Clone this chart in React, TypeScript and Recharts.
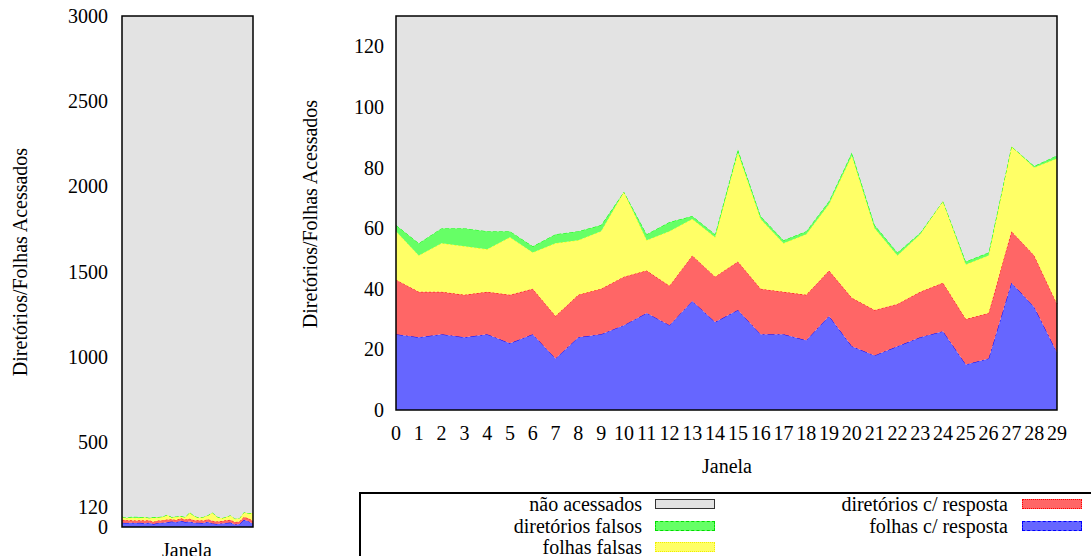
import { AreaChart, Area, XAxis, YAxis, ReferenceArea } from 'recharts';

// janela (time window) index
const janelas = [0, 1, 2, 3, 4, 5, 6, 7, 8, 9, 10, 11, 12, 13, 14, 15, 16, 17, 18, 19, 20, 21, 22, 23, 24, 25, 26, 27, 28, 29];

// values, per layer (bottom -> top)
const folhasResposta = [25, 24, 25, 24, 25, 22, 25, 17, 24, 25, 28, 32, 28, 36, 29, 33, 25, 25, 23, 31, 21, 18, 21, 24, 26, 15, 17, 42, 34, 19];
const diretoriosResposta = [18, 15, 14, 14, 14, 16, 15, 14, 14, 15, 16, 14, 13, 15, 15, 16, 15, 14, 15, 15, 16, 15, 14, 15, 16, 15, 15, 17, 17, 16];
const folhasFalsas = [16, 12, 16, 16, 14, 19, 12, 24, 18, 19, 28, 10, 18, 12, 13, 36, 23, 16, 20, 22, 47, 27, 16, 19, 27, 18, 19, 28, 29, 48];
const diretoriosFalsos = [2, 4, 5, 6, 6, 2, 2, 3, 3, 2, 0, 2, 3, 1, 1, 1, 1, 1, 1, 1, 1, 1, 1, 0.5, 0, 1, 1, 0, 0.5, 1];

// total number of nodes (top of the full-scale chart)
const TOTAL_NOS = 3000;

const leftTicks = [0, 120, 500, 1000, 1500, 2000, 2500, 3000];
const rightTicks = [0, 20, 40, 60, 80, 100, 120];

const data = janelas.map((j, i) => {
  const acessados = folhasResposta[i] + diretoriosResposta[i] + folhasFalsas[i] + diretoriosFalsos[i];
  return {
    janela: j,
    folhasResposta: folhasResposta[i],
    diretoriosResposta: diretoriosResposta[i],
    folhasFalsas: folhasFalsas[i],
    diretoriosFalsos: diretoriosFalsos[i],
    naoAcessados: TOTAL_NOS - acessados,
  };
});

const FONT = "'Liberation Serif', Tinos, 'DejaVu Serif', serif";

const series = [
  { key: 'folhasResposta', name: 'folhas c/ resposta', fill: '#6666ff', stroke: '#0000ff', dash: '7 3 2 3' },
  { key: 'diretoriosResposta', name: 'diretórios c/ resposta', fill: '#ff6666', stroke: '#ff0000', dash: '2 2' },
  { key: 'folhasFalsas', name: 'folhas falsas', fill: '#ffff66', stroke: '#ffff00', dash: '2 2' },
  { key: 'diretoriosFalsos', name: 'diretórios falsos', fill: '#66ff66', stroke: '#00ff00', dash: '4 2' },
  { key: 'naoAcessados', name: 'não acessados', fill: '#e3e3e3', stroke: 'none', dash: undefined },
];

const renderAreas = () =>
  series.map((s) => (
    <Area
      key={s.key}
      type="linear"
      dataKey={s.key}
      name={s.name}
      stackId="nos"
      fill={s.fill}
      fillOpacity={1}
      stroke={s.stroke}
      strokeWidth={1}
      strokeDasharray={s.dash}
      dot={false}
      activeDot={false}
      isAnimationActive={false}
    />
  ));

const tickStyle = { fill: '#000', fontSize: 20, fontFamily: FONT };

const axisTitle = (cx: number, cy: number, rotate: boolean): React.CSSProperties => ({
  position: 'absolute',
  left: cx,
  top: cy,
  transform: `translate(-50%, -50%)${rotate ? ' rotate(-90deg)' : ''}`,
  whiteSpace: 'nowrap',
  fontFamily: FONT,
  fontSize: 20,
  lineHeight: 1,
  color: '#000',
});

const legendRows = [
  { s: series[4], col: 0, row: 0, border: '1.5px solid #333' },
  { s: series[3], col: 0, row: 1, border: '1px dashed #00dd00' },
  { s: series[2], col: 0, row: 2, border: '1px dotted #eeee00' },
  { s: series[1], col: 1, row: 0, border: '1px dotted #ff0000' },
  { s: series[0], col: 1, row: 1, border: '1px dashed #0000ff' },
];

export default function App() {
  return (
    <div style={{ position: 'fixed', left: 0, top: 0, width: 1091, height: 556, overflow: 'hidden', background: '#fff', fontFamily: FONT }}>
      {/* full-scale chart */}
      <div style={{ position: 'absolute', left: 0, top: 0 }}>
        <AreaChart width={260} height={556} data={data} margin={{ top: 16, right: 7, left: 0, bottom: 29 }}>
          <XAxis dataKey="janela" type="number" domain={[0, 29]} hide />
          <YAxis
            type="number"
            domain={[0, TOTAL_NOS]}
            ticks={leftTicks}
            interval={0}
            width={122}
            axisLine={false}
            tickLine={false}
            tickSize={0}
            tickMargin={14}
            tick={tickStyle}
          />
          {renderAreas()}
          <ReferenceArea x1={0} x2={29} y1={0} y2={TOTAL_NOS} fill="none" stroke="#000" strokeWidth={1.5} ifOverflow="visible" />
        </AreaChart>
      </div>

      {/* zoomed chart */}
      <div style={{ position: 'absolute', left: 330, top: 0 }}>
        <AreaChart width={761} height={556} data={data} margin={{ top: 16, right: 34, left: 0, bottom: 116 }}>
          <XAxis
            dataKey="janela"
            type="number"
            domain={[0, 29]}
            ticks={janelas}
            interval={0}
            height={30}
            axisLine={false}
            tickLine={false}
            tickSize={0}
            tickMargin={16}
            tick={tickStyle}
          />
          <YAxis
            type="number"
            domain={[0, 130]}
            allowDataOverflow
            ticks={rightTicks}
            interval={0}
            width={66}
            axisLine={false}
            tickLine={false}
            tickSize={0}
            tickMargin={12}
            tick={tickStyle}
          />
          {renderAreas()}
          <ReferenceArea x1={0} x2={29} y1={0} y2={130} fill="none" stroke="#000" strokeWidth={1.5} ifOverflow="visible" />
        </AreaChart>
      </div>

      <div style={axisTitle(20, 262, true)}>Diretórios/Folhas Acessados</div>
      <div style={axisTitle(310, 214, true)}>Diretórios/Folhas Acessados</div>
      <div style={axisTitle(187, 550, false)}>Janela</div>
      <div style={axisTitle(727, 466, false)}>Janela</div>

      {/* legend */}
      <div
        style={{
          position: 'absolute',
          left: 359,
          top: 492,
          width: 760,
          height: 90,
          border: '2px solid #000',
          boxSizing: 'border-box',
        }}
      />
      {legendRows.map(({ s, col, row, border }) => {
        const textRight = col === 0 ? 642 : 1008;
        const swatchLeft = col === 0 ? 655 : 1022;
        const cy = 504 + row * 21.5;
        return (
          <div key={s.key}>
            <div
              style={{
                position: 'absolute',
                right: 1091 - textRight,
                top: cy - 11,
                fontFamily: FONT,
                fontSize: 20,
                lineHeight: '22px',
                whiteSpace: 'nowrap',
                color: '#000',
              }}
            >
              {s.name}
            </div>
            <div
              style={{
                position: 'absolute',
                left: swatchLeft,
                top: cy - 5,
                width: 60,
                height: 10,
                background: s.fill,
                border,
                boxSizing: 'border-box',
              }}
            />
          </div>
        );
      })}
    </div>
  );
}
